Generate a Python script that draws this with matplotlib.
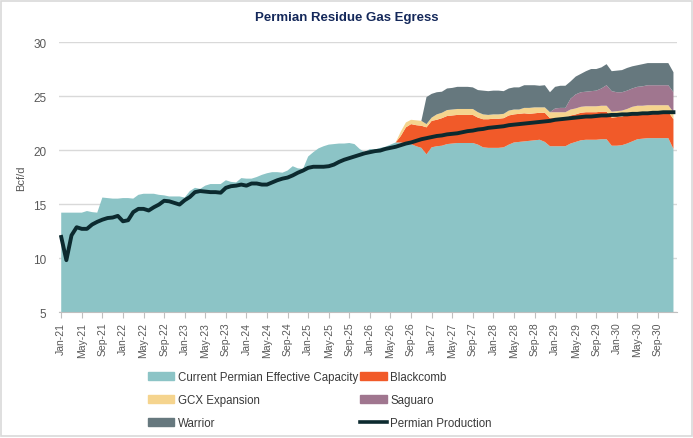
import matplotlib
matplotlib.use("Agg")
import matplotlib.pyplot as plt
from matplotlib import font_manager
from matplotlib.patches import Patch, Rectangle
from matplotlib.lines import Line2D
import numpy as np
import pandas as pd

# monthly, Jan-21 .. Dec-30
months = pd.date_range("2021-01-01", periods=120, freq="MS")
tick_idx = list(range(0, 120, 4))
tick_labels = [months[i].strftime("%b-%y") for i in tick_idx]

capacity = [
    14.2, 14.2, 14.2, 14.2, 14.2, 14.35, 14.25, 14.2, 15.6, 15.55, 15.5, 15.5,
    15.55, 15.55, 15.5, 15.85, 15.95, 15.95, 15.95, 15.85, 15.8, 15.7, 15.7, 15.7,
    15.6, 16.2, 16.5, 16.4, 16.7, 16.85, 16.85, 16.85, 17.2, 17.05, 17.0, 17.4,
    17.35, 17.35, 17.5, 17.7, 17.85, 17.95, 17.95, 17.9, 18.1, 18.5, 18.3, 18.25,
    19.4, 19.8, 20.15, 20.35, 20.5, 20.55, 20.6, 20.6, 20.65, 20.55, 20.1, 19.8,
    20.1, 20.05, 20.2, 20.3, 20.5, 20.7, 20.7, 20.6, 20.55, 20.35, 20.2, 19.6,
    20.25, 20.35, 20.4, 20.55, 20.6, 20.65, 20.65, 20.65, 20.65, 20.5, 20.25, 20.2,
    20.2, 20.2, 20.25, 20.5, 20.7, 20.75, 20.8, 20.85, 20.9, 20.95, 20.75, 20.35,
    20.35, 20.35, 20.35, 20.6, 20.75, 20.9, 20.95, 20.95, 20.95, 21.0, 21.0, 20.4,
    20.4, 20.45, 20.6, 20.8, 21.0, 21.05, 21.1, 21.1, 21.1, 21.1, 21.1, 20.1,
]

blackcomb = [0.0] * 66 + [
    0.6, 1.5, 1.85, 1.95, 2.05, 2.5,
    2.45, 2.45, 2.55, 2.6, 2.6, 2.6, 2.6, 2.6, 2.6, 2.5, 2.6, 2.65,
    2.7, 2.7, 2.7, 2.7, 2.6, 2.6, 2.6, 2.5, 2.5, 2.5, 2.7, 2.6,
    2.6, 2.6, 2.6, 2.6, 2.55, 2.55, 2.55, 2.55, 2.55, 2.55, 2.55, 2.6,
    2.65, 2.65, 2.65, 2.6, 2.5, 2.45, 2.45, 2.45, 2.45, 2.45, 2.45, 2.75,
]

gcx = [0.0] * 66 + [
    0.4, 0.45, 0.4, 0.45, 0.45, 0.3,
    0.3, 0.5, 0.5, 0.55, 0.55, 0.55, 0.55, 0.55, 0.55, 0.5, 0.45, 0.4,
    0.4, 0.4, 0.4, 0.45, 0.45, 0.4, 0.5, 0.55, 0.55, 0.5, 0.5, 0.55,
    0.55, 0.55, 0.55, 0.55, 0.55, 0.55, 0.55, 0.55, 0.55, 0.55, 0.55, 0.55,
    0.55, 0.55, 0.55, 0.6, 0.6, 0.6, 0.6, 0.6, 0.6, 0.6, 0.6, 0.65,
]

saguaro = [0.0] * 96 + [
    0.35, 0.4, 0.4, 1.0, 1.3, 1.35, 1.35, 1.4, 1.45, 1.6, 1.9, 1.9,
    1.75, 1.7, 1.7, 1.7, 1.75, 1.8, 1.85, 1.85, 1.85, 1.85, 1.85, 1.85,
]

warrior = [0.0] * 71 + [
    2.5,
    2.2, 2.05, 1.95, 2.0, 2.0, 2.05, 2.05, 2.05, 2.0, 2.05, 2.2, 2.2,
    2.2, 2.2, 2.1, 2.05, 2.05, 2.05, 2.1, 2.1, 2.05, 2.0, 2.05, 1.85,
    2.0, 2.05, 2.05, 1.6, 1.65, 1.7, 1.9, 2.05, 2.0, 1.95, 1.95, 1.85,
    2.0, 2.05, 2.1, 2.05, 2.0, 2.05, 2.05, 2.05, 2.05, 2.05, 2.05, 1.85,
]

production = [
    11.95, 9.8, 12.1, 12.85, 12.7, 12.7, 13.1, 13.35, 13.55, 13.7, 13.75, 13.9,
    13.4, 13.5, 14.25, 14.55, 14.55, 14.4, 14.7, 14.95, 15.3, 15.25, 15.1, 14.95,
    15.35, 15.65, 16.1, 16.2, 16.15, 16.1, 16.1, 16.05, 16.5, 16.65, 16.7, 16.8,
    16.7, 16.9, 16.9, 16.8, 16.8, 17.0, 17.2, 17.35, 17.45, 17.65, 17.9, 18.1,
    18.35, 18.45, 18.45, 18.45, 18.5, 18.65, 18.9, 19.1, 19.25, 19.4, 19.55, 19.7,
    19.8, 19.9, 19.95, 20.1, 20.2, 20.3, 20.45, 20.6, 20.7, 20.85, 21.0, 21.1,
    21.2, 21.3, 21.35, 21.45, 21.5, 21.55, 21.65, 21.75, 21.8, 21.9, 21.95, 22.05,
    22.1, 22.15, 22.2, 22.3, 22.35, 22.4, 22.45, 22.5, 22.55, 22.6, 22.65, 22.7,
    22.8, 22.85, 22.9, 22.95, 23.0, 23.05, 23.1, 23.1, 23.15, 23.2, 23.2, 23.25,
    23.25, 23.3, 23.3, 23.35, 23.35, 23.4, 23.4, 23.45, 23.45, 23.5, 23.5, 23.5,
]

series_names = ["Current Permian Effective Capacity", "Blackcomb", "GCX Expansion",
                "Saguaro", "Warrior"]
colors = ["#8CC4C6", "#F15A29", "#F5D48E", "#A0768F", "#66787E"]
line_color = "#0C2A2F"

names = {f.name for f in font_manager.fontManager.ttflist}
narrow = "Liberation Sans Narrow" if "Liberation Sans Narrow" in names else "Liberation Sans"
plt.rcParams["font.family"] = ["Liberation Sans", "DejaVu Sans"]

fig = plt.figure(figsize=(6.93, 4.39), dpi=100)
fig.patches.append(Rectangle((0.002, 0.004), 0.996, 0.992, transform=fig.transFigure,
                             fill=False, edgecolor="#D9D9D9", linewidth=1.2))
ax = fig.add_axes([0.085, 0.287, 0.892, 0.615])

x = np.arange(len(months))
ax.stackplot(x, capacity, blackcomb, gcx, saguaro, warrior, colors=colors,
             linewidth=0, zorder=2)
ax.plot(x, production, color=line_color, linewidth=2.8, zorder=3,
        solid_joinstyle="round")

ax.set_ylim(5, 30)
ax.set_yticks(range(5, 31, 5))
ax.set_xlim(-0.45, 119.7)
ax.set_xticks(tick_idx)
ax.set_xticklabels(tick_labels, rotation=90, fontsize=7.5, color="#595959")
ax.tick_params(axis="y", length=0, labelsize=8.5, labelcolor="#595959", pad=9)
ax.tick_params(axis="x", length=4, color="#BFBFBF", pad=3)
ax.grid(axis="y", color="#D9D9D9", linewidth=1, zorder=0)
ax.set_axisbelow(True)
for s in ["top", "right", "left"]:
    ax.spines[s].set_visible(False)
ax.spines["bottom"].set_color("#BFBFBF")
ax.set_ylabel("Bcf/d", fontsize=8, color="#595959", labelpad=5)

fig.text(0.5, 0.96, "Permian Residue Gas Egress", ha="center", va="center",
         fontsize=9.5, fontweight="bold", color="#14285A", family=narrow)

handles = [Patch(color=colors[0]), Patch(color=colors[2]), Patch(color=colors[4]),
           Patch(color=colors[1]), Patch(color=colors[3]),
           Line2D([0], [0], color=line_color, linewidth=2.6)]
labels = [series_names[0], series_names[2], series_names[4],
          series_names[1], series_names[3], "Permian Production"]
fig.legend(handles, labels, ncol=2, loc="upper left", bbox_to_anchor=(0.198, 0.176),
           frameon=False, handlelength=2.3, handleheight=0.6,
           handletextpad=0.3, columnspacing=0.2, labelspacing=0.95,
           prop={"family": narrow, "size": 8.3}, labelcolor="#3A3A3A")

fig.savefig("out.png", dpi=100)
